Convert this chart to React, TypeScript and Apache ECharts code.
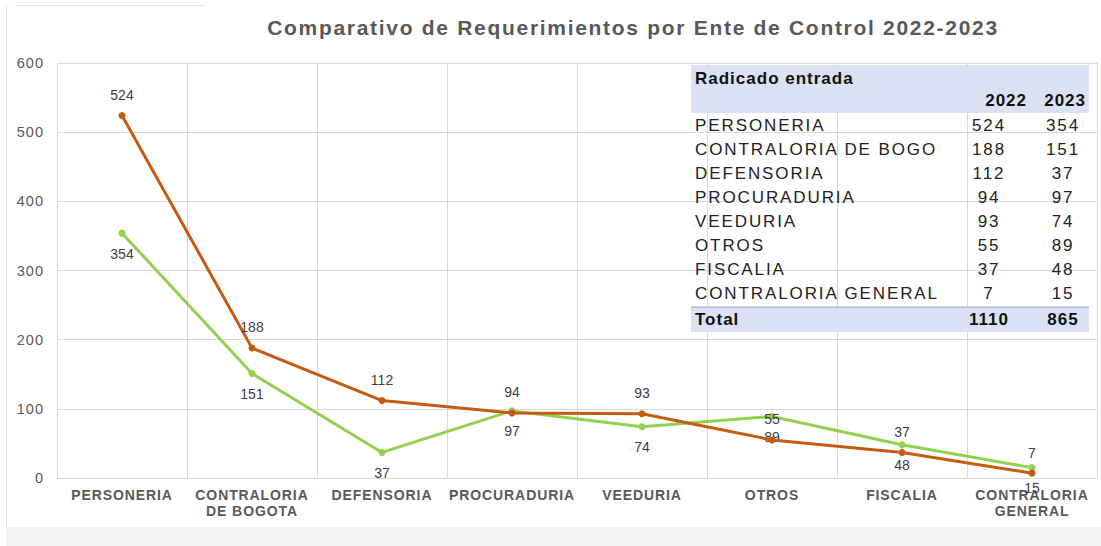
import React, { useEffect, useRef } from "react";
import * as echarts from "echarts";

const categories = [
  "PERSONERIA",
  "CONTRALORIA\nDE BOGOTA",
  "DEFENSORIA",
  "PROCURADURIA",
  "VEEDURIA",
  "OTROS",
  "FISCALIA",
  "CONTRALORIA\nGENERAL",
];
const values2022 = [524, 188, 112, 94, 93, 55, 37, 7];
const values2023 = [354, 151, 37, 97, 74, 89, 48, 15];
const tableLabels = [
  "PERSONERIA",
  "CONTRALORIA DE BOGO",
  "DEFENSORIA",
  "PROCURADURIA",
  "VEEDURIA",
  "OTROS",
  "FISCALIA",
  "CONTRALORIA GENERAL",
];
const yearLabels = ["2022", "2023"];
const titleText = "Comparativo de Requerimientos por Ente de Control 2022-2023";
const tableTitle = "Radicado entrada";

const FONT = "'Liberation Sans', Arial, sans-serif";
const ORANGE = "#c55a11";
const GREEN = "#92d050";

// letter spacing (px) keyed by "fontSize-weight", to mimic the wide spreadsheet text rendering
const SPACING: Record<string, number> = {
  "21-700": 1.7,
  "17-400": 1.9,
  "17-700": 1.0,
  "14-700": 0.9,
  "14.5-400": 1.0,
};

export default function App() {
  const ref = useRef<HTMLDivElement>(null);
  useEffect(() => {
    if (!ref.current) return;
    const chart = echarts.init(ref.current, null, { renderer: "svg" });
    const total2022 = values2022.reduce((a, b) => a + b, 0);
    const total2023 = values2023.reduce((a, b) => a + b, 0);

    const tX = 691;
    const tW = 398;
    const col1 = 989;
    const col2 = 1063;
    const rowY0 = 125;
    const rowH = 24.1;
    const bold = `bold 17px ${FONT}`;
    const reg = `17px ${FONT}`;
    const tableEls: any[] = [
      { type: "rect", shape: { x: tX, y: 65, width: tW, height: 48 }, style: { fill: "#d9e1f2" }, z: 10 },
      { type: "rect", shape: { x: tX, y: 307, width: tW, height: 25 }, style: { fill: "#d9e1f2" }, z: 10 },
      { type: "line", shape: { x1: tX, y1: 307, x2: tX + tW, y2: 307 }, style: { stroke: "#8ea9db", lineWidth: 1 }, z: 11 },
      { type: "text", x: 695, y: 78, style: { text: tableTitle, font: bold, fill: "#111", textVerticalAlign: "middle" }, z: 12 },
      { type: "text", x: 1027, y: 100, style: { text: yearLabels[0], font: bold, fill: "#111", textAlign: "right", textVerticalAlign: "middle" }, z: 12 },
      { type: "text", x: 1086, y: 100, style: { text: yearLabels[1], font: bold, fill: "#111", textAlign: "right", textVerticalAlign: "middle" }, z: 12 },
      { type: "text", x: 695, y: 319, style: { text: "Total", font: bold, fill: "#111", textVerticalAlign: "middle" }, z: 12 },
      { type: "text", x: col1, y: 319, style: { text: String(total2022), font: bold, fill: "#111", textAlign: "center", textVerticalAlign: "middle" }, z: 12 },
      { type: "text", x: col2, y: 319, style: { text: String(total2023), font: bold, fill: "#111", textAlign: "center", textVerticalAlign: "middle" }, z: 12 },
    ];
    tableLabels.forEach((lab, i) => {
      const y = rowY0 + i * rowH;
      tableEls.push(
        { type: "text", x: 695, y, style: { text: lab, font: reg, fill: "#222", textVerticalAlign: "middle" }, z: 12 },
        { type: "text", x: col1, y, style: { text: String(values2022[i]), font: reg, fill: "#222", textAlign: "center", textVerticalAlign: "middle" }, z: 12 },
        { type: "text", x: col2, y, style: { text: String(values2023[i]), font: reg, fill: "#222", textAlign: "center", textVerticalAlign: "middle" }, z: 12 }
      );
    });

    chart.setOption({
      animation: false,
      backgroundColor: "#ffffff",
      title: {
        text: titleText,
        left: 628,
        top: 12,
        textAlign: "center",
        textStyle: { fontFamily: FONT, fontSize: 21, fontWeight: "bold", color: "#595959" },
      },
      grid: { left: 57, right: 4, top: 63, bottom: 68, containLabel: false },
      xAxis: {
        type: "category",
        data: categories,
        boundaryGap: true,
        axisLine: { show: true, lineStyle: { color: "#d9d9d9" } },
        axisTick: { show: false },
        splitLine: { show: true, lineStyle: { color: "#d9d9d9" } },
        axisLabel: {
          interval: 0,
          margin: 9,
          fontFamily: FONT,
          fontSize: 14,
          fontWeight: "bold",
          color: "#595959",
          lineHeight: 16,
        },
      },
      yAxis: {
        type: "value",
        min: 0,
        max: 600,
        interval: 100,
        axisLine: { show: false },
        axisTick: { show: false },
        splitLine: { show: true, lineStyle: { color: "#d9d9d9" } },
        axisLabel: { fontFamily: FONT, fontSize: 14.5, color: "#595959", margin: 13 },
      },
      series: [
        {
          name: "2022",
          type: "line",
          data: values2022,
          symbol: "circle",
          symbolSize: 7,
          lineStyle: { color: ORANGE, width: 3 },
          itemStyle: { color: ORANGE },
          label: { show: true, position: "top", distance: 10, fontFamily: FONT, fontSize: 14, color: "#404040" },
          z: 3,
        },
        {
          name: "2023",
          type: "line",
          data: values2023,
          symbol: "circle",
          symbolSize: 7,
          lineStyle: { color: GREEN, width: 3 },
          itemStyle: { color: GREEN },
          label: { show: true, position: "bottom", distance: 10, fontFamily: FONT, fontSize: 14, color: "#404040" },
          z: 2,
        },
      ],
      graphic: [
        { type: "rect", shape: { x: 6, y: 527, width: 1095, height: 19 }, style: { fill: "#f3f3f3" }, z: -1 },
        { type: "line", shape: { x1: 6.5, y1: 5, x2: 6.5, y2: 527 }, style: { stroke: "#e3e3e3", lineWidth: 1 }, z: -1 },
        { type: "line", shape: { x1: 15, y1: 5.5, x2: 205, y2: 5.5 }, style: { stroke: "#e6e6e6", lineWidth: 1 }, z: -1 },
        ...tableEls,
      ],
    });

    const applySpacing = () => {
      const root = ref.current;
      if (!root) return;
      root.querySelectorAll("text").forEach((t) => {
        const cs = getComputedStyle(t);
        const fs = parseFloat(cs.fontSize);
        const w = cs.fontWeight === "bold" ? "700" : cs.fontWeight;
        const sp = SPACING[`${fs}-${w}`];
        if (sp) (t as SVGTextElement).style.letterSpacing = `${sp}px`;
      });
    };
    chart.on("finished", applySpacing);
    applySpacing();
    const timer = setTimeout(applySpacing, 50);
    return () => {
      clearTimeout(timer);
      chart.dispose();
    };
  }, []);
  return <div ref={ref} style={{ position: "absolute", left: 0, top: 0, width: 1101, height: 546 }} />;
}
